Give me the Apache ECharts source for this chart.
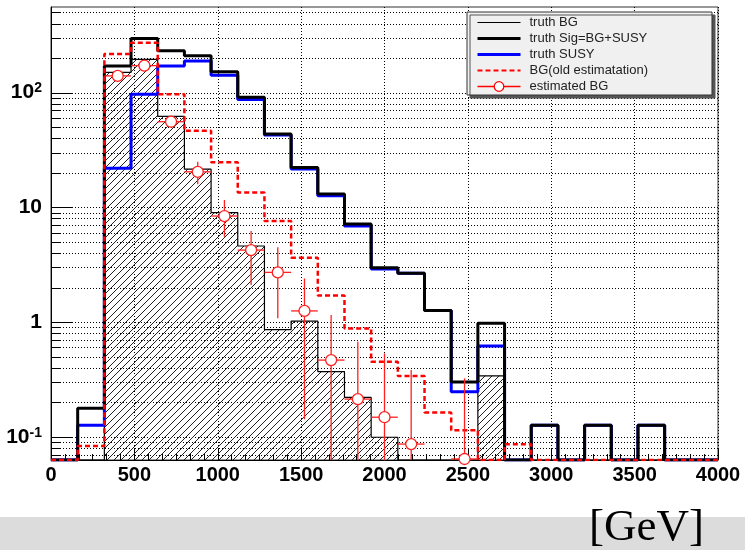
<!DOCTYPE html>
<html><head><meta charset="utf-8">
<script src="https://cdn.jsdelivr.net/npm/echarts@6/dist/echarts.min.js"></script>
<style>html,body{margin:0;padding:0;background:#fff}#c{width:745px;height:550px}</style>
</head><body><div id="c"></div>
<script>
// ---- data ----
const binEdges = [0,160,320,480,640,800,960,1120,1280,1440,1600,1760,1920,2080,2240,2400,2560,2720,2880,3040,3200,3360,3520,3680,3840,4000];
const truthBG  = [0,0.05,150,195,62,21.5,9.0,4.6,0.86,1.02,0.37,0.22,0.099,0,0,0.05,0.34,0,0,0,0,0,0,0,0];
const truthSig = [0,0.177,171,297,232,210,152,91,43.6,22.3,13.1,7.15,2.97,2.66,1.26,0.30,0.975,0,0.126,0,0.126,0,0.126,0,0];
const truthSUSY= [0,0.126,21.9,97,171,189,142,87,42.7,21.6,12.6,6.87,2.9,2.66,1.26,0.247,0.618,0,0.126,0,0.126,0,0.126,0,0];
const bgOld    = [0,0.083,217,272,97,46.5,24.7,13.5,7.6,3.64,1.70,0.88,0.451,0.338,0.163,0.114,0,0.086,0,0,0,0,0,0,0];
const estX     = [400,560,720,880,1040,1200,1360,1520,1680,1840,2000,2160,2480];
const estY     = [140,172,55.8,20.4,8.4,4.24,2.71,1.25,0.466,0.213,0.148,0.0863,0.064];
const estLo    = [128,159,49.9,15.9,5.54,2.10,1.08,0.142,0,0,0,0,0];
const estHi    = [152,185,61.7,25.0,11.6,6.21,4.48,2.40,1.15,0.673,0.533,0.382,0.323];
const estXErr  = [80,80,80,80,80,80,80,80,80,80,80,80,80];
const xTicks = {min:0, max:4000, interval:500};
const yRange = {min:0.0627, max:558};
const yMajorLabels = {'100':['10','2'], '10':['10',''], '1':['1',''], '0.1':['10','-1']};

// ---- helpers ----
const F = "'Liberation Sans', Arial, Helvetica, sans-serif";
const YMIN = yRange.min, YMAX = yRange.max;
function stepData(vals){
  const out = [];
  for (let i=0;i<vals.length;i++) out.push([binEdges[i], Math.max(vals[i], YMIN)]);
  out.push([binEdges[vals.length], Math.max(vals[vals.length-1], YMIN)]);
  return out;
}
// y grid / tick values (decades and their 2..9 subdivisions within the axis range)
const yGrid = [];
for (let e=-2;e<=3;e++) for (let m=1;m<=9;m++){
  const v = +(m*Math.pow(10,e)).toPrecision(6);
  if (v>YMIN && v<YMAX) yGrid.push([xTicks.min, v, m===1?1:0]);
}
function hatchPattern(){
  const s=7, c=document.createElement('canvas'); c.width=s; c.height=s;
  const g=c.getContext('2d'); g.strokeStyle='#222'; g.lineWidth=1;
  g.beginPath();
  for (const k of [-s,0,s]){ g.moveTo(k-1,s+1); g.lineTo(k+s+1,-1); }
  g.stroke();
  return {image:c, repeat:'repeat'};
}

const chart = echarts.init(document.getElementById('c'), null, {renderer:'canvas'});
const option = {
  animation:false,
  backgroundColor:'#fff',
  grid:{left:51, right:27, top:7, bottom:90, show:true, borderColor:'#333', borderWidth:1, backgroundColor:'transparent'},
  xAxis:{type:'value', min:xTicks.min, max:xTicks.max, interval:xTicks.interval,
    axisLine:{show:true, onZero:false, lineStyle:{color:'#000', width:1}},
    axisTick:{show:true, inside:true, length:12, lineStyle:{color:'#000'}},
    minorTick:{show:true, splitNumber:6, length:6, lineStyle:{color:'#000'}},
    splitLine:{show:true, lineStyle:{color:'#000', width:1, type:[1,2]}},
    axisLabel:{color:'#000', fontFamily:F, fontWeight:'bold', fontSize:20, margin:5,
      formatter:function(v){ return String(v); }}
  },
  yAxis:{type:'log', logBase:10, min:YMIN, max:YMAX,
    axisLine:{show:true, lineStyle:{color:'#000', width:1}},
    axisTick:{show:false}, splitLine:{show:false}, minorTick:{show:false},
    axisLabel:{margin:9, showMinLabel:true, showMaxLabel:true,
      formatter:function(v){
        const e=Math.round(Math.log10(v)), p=Math.pow(10,e);
        if (Math.abs(v-p)/p>1e-4) return '';
        const lab = yMajorLabels[String(p)];
        if (!lab) return '';
        return lab[1] ? '{b|'+lab[0]+'}{s|'+lab[1]+'}' : '{b|'+lab[0]+'}';
      },
      rich:{
        b:{fontFamily:F, fontWeight:'bold', fontSize:21, color:'#000', lineHeight:22},
        s:{fontFamily:F, fontWeight:'bold', fontSize:14, color:'#000', lineHeight:14, verticalAlign:'top'}
      }
    }
  },
  legend:{
    orient:'vertical', left:467, top:12, selectedMode:false,
    padding:[4,64,2,9], itemGap:3, itemWidth:43, itemHeight:12,
    backgroundColor:'#f0f0f0', borderColor:'#333', borderWidth:1,
    shadowColor:'#555', shadowBlur:0.1, shadowOffsetX:3, shadowOffsetY:3,
    textStyle:{fontFamily:F, fontSize:13, color:'#222', padding:[0,0,0,4]},
    itemStyle:{opacity:0},
    data:[
      {name:'truth BG', lineStyle:{width:1, color:'#000'}},
      {name:'truth Sig=BG+SUSY', lineStyle:{width:3, color:'#000'}},
      {name:'truth SUSY', lineStyle:{width:3, color:'#0000ff'}},
      {name:'BG(old estimatation)'},
      {name:'estimated BG', itemStyle:{opacity:1, color:'#fff', borderColor:'#ff0000', borderWidth:1.3},
        lineStyle:{opacity:1, width:1.3, color:'#ff0000', type:'solid'}}
    ]
  },
  graphic:[
    {type:'rect', left:0, top:517, shape:{width:745, height:33}, style:{fill:'#dcdcdc'}, z:-10, silent:true},
    {type:'text', right:41, top:506, style:{text:'[GeV]', font:"45px 'Liberation Serif', 'Times New Roman', serif", fill:'#000'}, z:10, silent:true}
  ],
  series:[
    {type:'custom', name:'grid', z:1, silent:true, clip:true,
      dimensions:['x','v','major'], encode:{x:0, y:1},
      data:yGrid,
      renderItem:function(params, api){
        const v=api.value(1), major=api.value(2);
        const p0=api.coord([xTicks.min, v]), p1=api.coord([xTicks.max, v]);
        const y=Math.round(p0[1])+0.5;
        return {type:'group', children:[
          {type:'line', shape:{x1:p0[0], y1:y, x2:p1[0], y2:y}, style:{stroke:'#000', lineWidth:1, lineDash:[1,2]}},
          {type:'line', shape:{x1:p0[0], y1:y, x2:p0[0]+(major?21:10), y2:y}, style:{stroke:'#000', lineWidth:1}}
        ]};
      }
    },
    {type:'line', name:'truth BG', z:2, step:'end', symbol:'none', data:stepData(truthBG),
      lineStyle:{color:'#000', width:1.2}, itemStyle:{color:'#000'},
      areaStyle:{origin:'start', color:hatchPattern(), opacity:1}},
    {type:'line', name:'truth SUSY', z:3, step:'end', symbol:'none', data:stepData(truthSUSY),
      lineStyle:{color:'#0000ff', width:3}, itemStyle:{color:'#0000ff'}},
    {type:'line', name:'truth Sig=BG+SUSY', z:4, step:'end', symbol:'none', data:stepData(truthSig),
      lineStyle:{color:'#000', width:3}, itemStyle:{color:'#000'}},
    {type:'line', name:'BG(old estimatation)', z:5, step:'end', symbol:'none', data:stepData(bgOld),
      lineStyle:{color:'#ff0000', width:2.5, type:[5,3]}, itemStyle:{color:'#ff0000'}},
    {type:'custom', name:'errors', z:6, silent:true, clip:true,
      dimensions:['x','y','lo','hi','xe'], encode:{x:0, y:1},
      data:estX.map((x,i)=>[x, estY[i], estLo[i], estHi[i], estXErr[i]]),
      renderItem:function(params, api){
        const x=api.value(0), y=api.value(1), lo=Math.max(api.value(2), YMIN), hi=api.value(3), xe=api.value(4);
        const c=api.coord([x,y]), l=api.coord([x-xe,y]), r=api.coord([x+xe,y]);
        const a=api.coord([x,lo]), b=api.coord([x,hi]);
        const st={stroke:'#ff2020', lineWidth:1.3};
        return {type:'group', children:[
          {type:'line', shape:{x1:l[0], y1:c[1], x2:r[0], y2:c[1]}, style:st},
          {type:'line', shape:{x1:c[0], y1:a[1], x2:c[0], y2:b[1]}, style:st}
        ]};
      }
    },
    {type:'line', name:'estimated BG', z:7, symbol:'circle', symbolSize:11, showSymbol:true,
      data:estX.map((x,i)=>[x, estY[i]]),
      lineStyle:{opacity:0, color:'#ff0000'},
      itemStyle:{color:'#fff', borderColor:'#ff2020', borderWidth:1.3}}
  ]
};
chart.setOption(option);
</script>
</body></html>
